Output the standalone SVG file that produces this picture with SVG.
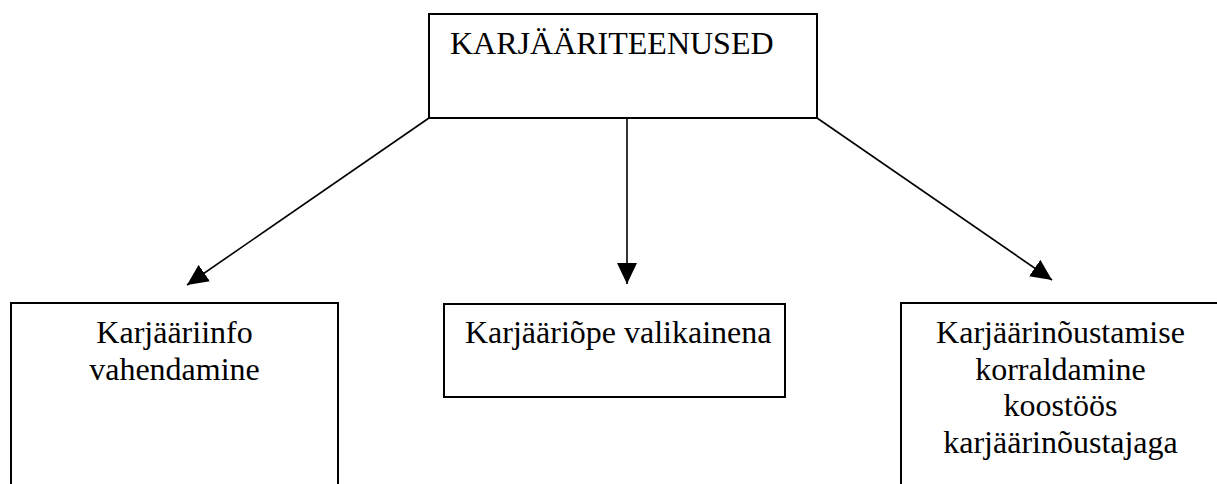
<svg xmlns="http://www.w3.org/2000/svg" width="1217" height="484" viewBox="0 0 1217 484">
<style>
.box{fill:#fff;stroke:#000;stroke-width:2}
.t{font-family:"Liberation Serif","Times New Roman",serif;font-size:32px;fill:#000}
.c{text-anchor:middle}
.conn{stroke:#000;stroke-width:1.6;fill:none}
</style>
<defs>
<marker id="ah" viewBox="0 0 21 20" refX="21" refY="10" markerWidth="21" markerHeight="20" markerUnits="userSpaceOnUse" orient="auto">
<path d="M0,0 L21,10 L0,20 Z" fill="#000"/>
</marker>
</defs>
<rect width="1217" height="484" fill="#fff"/>
<g id="connectors">
<line class="conn" x1="429" y1="118" x2="187" y2="285" marker-end="url(#ah)"/>
<line class="conn" x1="627" y1="118" x2="627" y2="284" marker-end="url(#ah)"/>
<line class="conn" x1="817" y1="118" x2="1052" y2="280" marker-end="url(#ah)"/>
</g>
<g id="top">
<rect class="box" x="429" y="14" width="388" height="104"/>
<text class="t" x="450" y="54">KARJÄÄRITEENUSED</text>
</g>
<g id="left">
<rect class="box" x="11" y="303" width="327" height="200"/>
<text class="t c" x="174.5" y="343">Karjääriinfo</text>
<text class="t c" x="174.5" y="380">vahendamine</text>
</g>
<g id="middle">
<rect class="box" x="444" y="304" width="341" height="93"/>
<text class="t" x="465" y="343">Karjääriõpe valikainena</text>
</g>
<g id="right">
<rect class="box" x="901" y="303" width="340" height="200"/>
<text class="t c" x="1060.5" y="343">Karjäärinõustamise</text>
<text class="t c" x="1060.5" y="379.5">korraldamine</text>
<text class="t c" x="1060.5" y="416">koostöös</text>
<text class="t c" x="1060.5" y="453">karjäärinõustajaga</text>
</g>
</svg>
